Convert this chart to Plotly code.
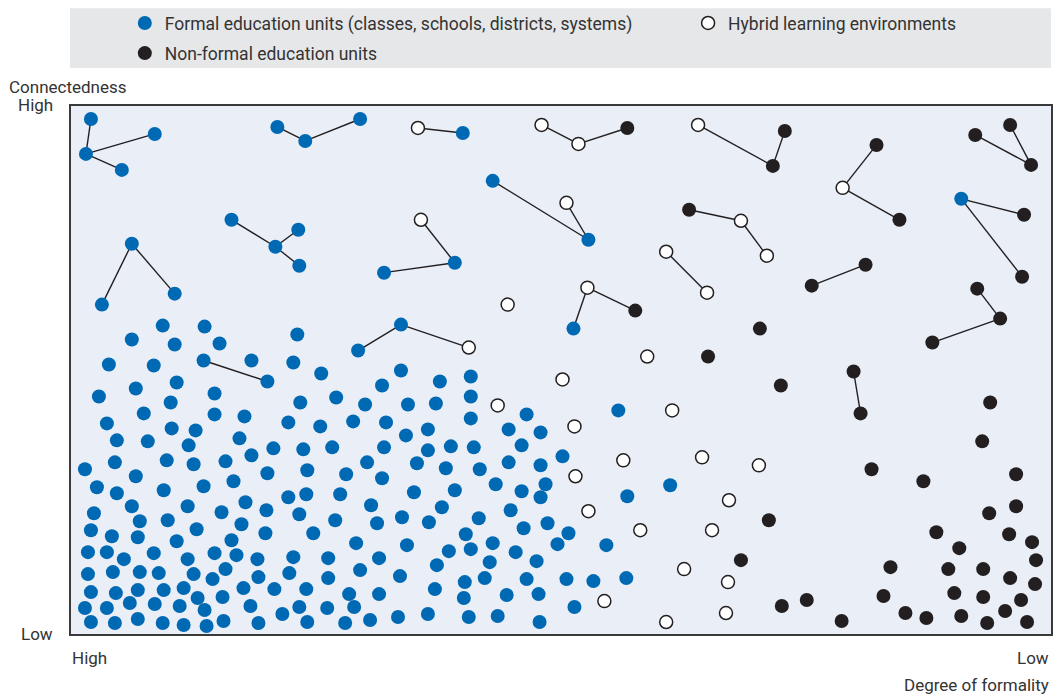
import plotly.graph_objects as go

# ---- data (arbitrary units: x = informality score 0..983, y = connectedness 0..529) ----
formal_x = [20, 15, 84, 51, 207, 235, 290, 161, 205, 228, 229, 61, 31, 104, 314, 385, 288, 331, 133, 197,
            393, 423, 519, 504, 893,
            92, 134, 61, 104, 149, 227, 38, 83, 181, 223, 251, 331,
            106, 65, 28, 144, 100, 230, 266, 73, 144, 174, 36, 101, 125, 218, 250, 46, 77, 118, 169, 203, 233, 262,
            14, 44, 96, 123, 155, 181, 65, 197, 237, 26, 46, 93, 133, 163, 218, 236, 270, 61, 117, 151, 175, 196,
            229, 265, 23, 69, 97, 126, 171, 20, 41, 67, 106, 161, 195, 243, 17, 36, 53, 83, 117, 144, 166, 187,
            223, 258, 17, 42, 69, 88, 123, 142, 155, 188, 219, 258, 20, 45, 67, 93, 113, 127, 152, 173, 204, 236,
            14, 36, 59, 84, 109, 134, 180, 212, 229, 257, 20, 44, 67, 92, 113, 136, 153, 188, 237,
            370, 401, 312, 295, 338, 366, 401, 457, 283, 316, 401, 439, 471, 336, 358, 314, 358, 381, 404, 452,
            297, 347, 376, 410, 439, 471, 493, 276, 312, 426, 476, 344, 385, 452, 471, 301, 372, 441, 307, 332,
            359, 409, 454, 478, 396, 499, 286, 337, 423, 488, 537, 309, 379, 401, 446, 420, 467, 367, 290, 330,
            395, 415, 457, 497, 524, 279, 309, 365, 394, 437, 469, 284, 505, 275, 300, 328, 358, 399, 428, 470,
            549, 601, 558, 557]
formal_y = [516, 481, 501, 465, 508, 494, 516, 415, 388, 405, 369, 391, 330, 341, 362, 372, 284, 310, 274, 253,
            502, 454, 395, 306, 436,
            309, 308, 295, 290, 291, 300, 270, 269, 274, 272, 261, 264,
            252, 246, 238, 241, 232, 232, 237, 221, 220, 218, 211, 206, 204, 212, 208, 194, 193, 189, 196, 186, 185, 187,
            165, 172, 174, 170, 173, 179, 158, 161, 164, 147, 141, 144, 148, 153, 137, 140, 140, 128, 128, 122, 132, 124,
            120, 114, 121, 113, 114, 105, 110, 104, 98, 97, 93, 94, 101, 101, 82, 82, 75, 81, 75, 81, 79, 75,
            77, 76, 60, 62, 62, 61, 60, 55, 65, 57, 61, 56, 42, 41, 44, 44, 46, 36, 37, 46, 45, 45,
            26, 26, 31, 30, 28, 24, 28, 20, 27, 26, 12, 11, 15, 11, 9, 8, 13, 11, 12,
            253, 258, 249, 230, 230, 231, 238, 220, 213, 212, 216, 205, 202, 199, 205, 187, 184, 188, 187, 189,
            172, 171, 166, 165, 172, 169, 178, 160, 156, 150, 150, 142, 144, 143, 137, 129, 127, 124, 111, 117,
            112, 116, 106, 111, 100, 101, 91, 89, 91, 90, 89, 76, 83, 85, 82, 72, 73, 69, 64, 58,
            52, 56, 55, 55, 53, 40, 40, 45, 36, 39, 40, 27, 27, 11, 14, 17, 20, 17, 18, 12,
            224, 149, 138, 56]

hybrid_x = [351, 399, 348, 472, 509, 629, 497, 672, 698, 597, 638, 518, 774,
            438, 578, 493, 428, 505, 506, 519, 535, 603, 554, 633, 690, 660, 571, 643, 615, 659, 657, 597]
hybrid_y = [415, 287, 507, 510, 491, 510, 432, 414, 379, 383, 342, 347, 447,
            330, 278, 255, 229, 208, 158, 123, 33, 224, 174, 177, 169, 134, 104, 104, 65, 52, 21, 12]

nonformal_x = [558, 704, 716, 620, 566, 808, 831, 907, 942, 963, 956, 954, 797, 743, 909, 932, 864, 785, 792,
               691, 639, 712, 700, 672, 713, 738, 773, 922, 914, 803, 855, 948, 948, 921, 868, 941, 964, 891,
               968, 822, 880, 915, 942, 967, 815, 886, 915, 953, 837, 858, 893, 937, 919, 959]
nonformal_y = [507, 469, 504, 425, 324, 490, 415, 500, 510, 470, 420, 358, 370, 349, 346, 316, 292, 263, 221,
               306, 278, 249, 114, 74, 28, 34, 13, 232, 193, 165, 153, 160, 128, 121, 102, 100, 92, 86,
               74, 67, 65, 65, 56, 50, 38, 41, 37, 34, 21, 16, 18, 23, 11, 12]

# links between units: (series, index) pairs
links = [(("F", 0), ("F", 1)), (("F", 1), ("F", 2)), (("F", 1), ("F", 3)),
         (("F", 4), ("F", 5)), (("F", 5), ("F", 6)),
         (("F", 7), ("F", 8)), (("F", 8), ("F", 9)), (("F", 8), ("F", 10)),
         (("F", 11), ("F", 12)), (("F", 11), ("F", 13)),
         (("F", 14), ("F", 15)), (("F", 15), ("H", 0)),
         (("F", 16), ("F", 17)), (("F", 17), ("H", 1)),
         (("F", 18), ("F", 19)),
         (("H", 2), ("F", 20)),
         (("H", 3), ("H", 4)), (("H", 4), ("N", 0)),
         (("H", 5), ("N", 1)), (("N", 1), ("N", 2)),
         (("F", 21), ("F", 22)), (("H", 6), ("F", 22)),
         (("N", 3), ("H", 7)), (("H", 7), ("H", 8)),
         (("H", 9), ("H", 10)),
         (("H", 11), ("F", 23)), (("H", 11), ("N", 4)),
         (("N", 5), ("H", 12)), (("H", 12), ("N", 6)),
         (("N", 7), ("N", 9)), (("N", 8), ("N", 9)),
         (("F", 24), ("N", 10)), (("F", 24), ("N", 11)),
         (("N", 12), ("N", 13)),
         (("N", 14), ("N", 15)), (("N", 15), ("N", 16)),
         (("N", 17), ("N", 18))]

series_names = {
    "F": "Formal education units (classes, schools, districts, systems)",
    "H": "Hybrid learning environments",
    "N": "Non-formal education units",
}

# ---- build ----
coords = {"F": (formal_x, formal_y), "H": (hybrid_x, hybrid_y), "N": (nonformal_x, nonformal_y)}
lx, ly = [], []
for a, b in links:
    for s, i in (a, b):
        lx.append(coords[s][0][i])
        ly.append(coords[s][1][i])
    lx.append(None)
    ly.append(None)

FONT = "Roboto, sans-serif"
TXT = "#333333"
BLUE = "#0069b4"
BLACK = "#231f20"

fig = go.Figure()
fig.add_trace(go.Scatter(x=lx, y=ly, mode="lines", line=dict(color=BLACK, width=1.4),
                         showlegend=False, hoverinfo="skip"))
fig.add_trace(go.Scatter(x=formal_x, y=formal_y, mode="markers", name=series_names["F"],
                         marker=dict(color=BLUE, size=14, line=dict(width=0)), legend="legend"))
fig.add_trace(go.Scatter(x=nonformal_x, y=nonformal_y, mode="markers", name=series_names["N"],
                         marker=dict(color=BLACK, size=14, line=dict(width=0)), legend="legend2"))
fig.add_trace(go.Scatter(x=hybrid_x, y=hybrid_y, mode="markers", name=series_names["H"],
                         marker=dict(color="white", size=13, line=dict(color=BLACK, width=1.5)),
                         legend="legend3"))

leg_common = dict(orientation="h", xanchor="left", yanchor="middle", bgcolor="rgba(0,0,0,0)",
                  font=dict(family=FONT, size=17.5, color=TXT), borderwidth=0)

fig.update_layout(
    width=1058, height=698,
    margin=dict(l=71, r=5, t=105, b=64),
    paper_bgcolor="white",
    plot_bgcolor="#e9eef7",
    font=dict(family=FONT, size=17, color=TXT),
    xaxis=dict(range=[0, 983], showgrid=False, zeroline=False, showticklabels=False, ticks="",
               showline=True, mirror=True, linecolor="#3a3a3a", linewidth=2, fixedrange=True),
    yaxis=dict(range=[0, 529], showgrid=False, zeroline=False, showticklabels=False, ticks="",
               showline=True, mirror=True, linecolor="#3a3a3a", linewidth=2, fixedrange=True),
    legend=dict(x=0.0549, y=1.157, **leg_common),
    legend2=dict(x=0.0549, y=1.100, **leg_common),
    legend3=dict(x=0.6297, y=1.157, **leg_common),
    shapes=[dict(type="rect", xref="paper", yref="paper", x0=-0.001, x1=1, y0=1.0718, y1=1.1853,
                 fillcolor="#e6e7e8", line=dict(width=0), layer="below")],
    annotations=[
        dict(text="Connectedness", xref="paper", yref="paper", x=-0.003, y=1.036,
             xanchor="center", yanchor="middle", showarrow=False),
        dict(text="High", xref="paper", yref="paper", x=-0.0163, y=1.001,
             xanchor="right", yanchor="middle", showarrow=False),
        dict(text="Low", xref="paper", yref="paper", x=-0.0163, y=0.0,
             xanchor="right", yanchor="middle", showarrow=False),
        dict(text="High", xref="paper", yref="paper", x=-0.001, y=-0.0454,
             xanchor="left", yanchor="middle", showarrow=False),
        dict(text="Low", xref="paper", yref="paper", x=1.0, y=-0.0454,
             xanchor="right", yanchor="middle", showarrow=False),
        dict(text="Degree of formality", xref="paper", yref="paper", x=1.0, y=-0.0964,
             xanchor="right", yanchor="middle", showarrow=False),
    ],
)

fig.write_html("out.html", post_script="document.body.style.margin='0';",
               config={"displayModeBar": False})
